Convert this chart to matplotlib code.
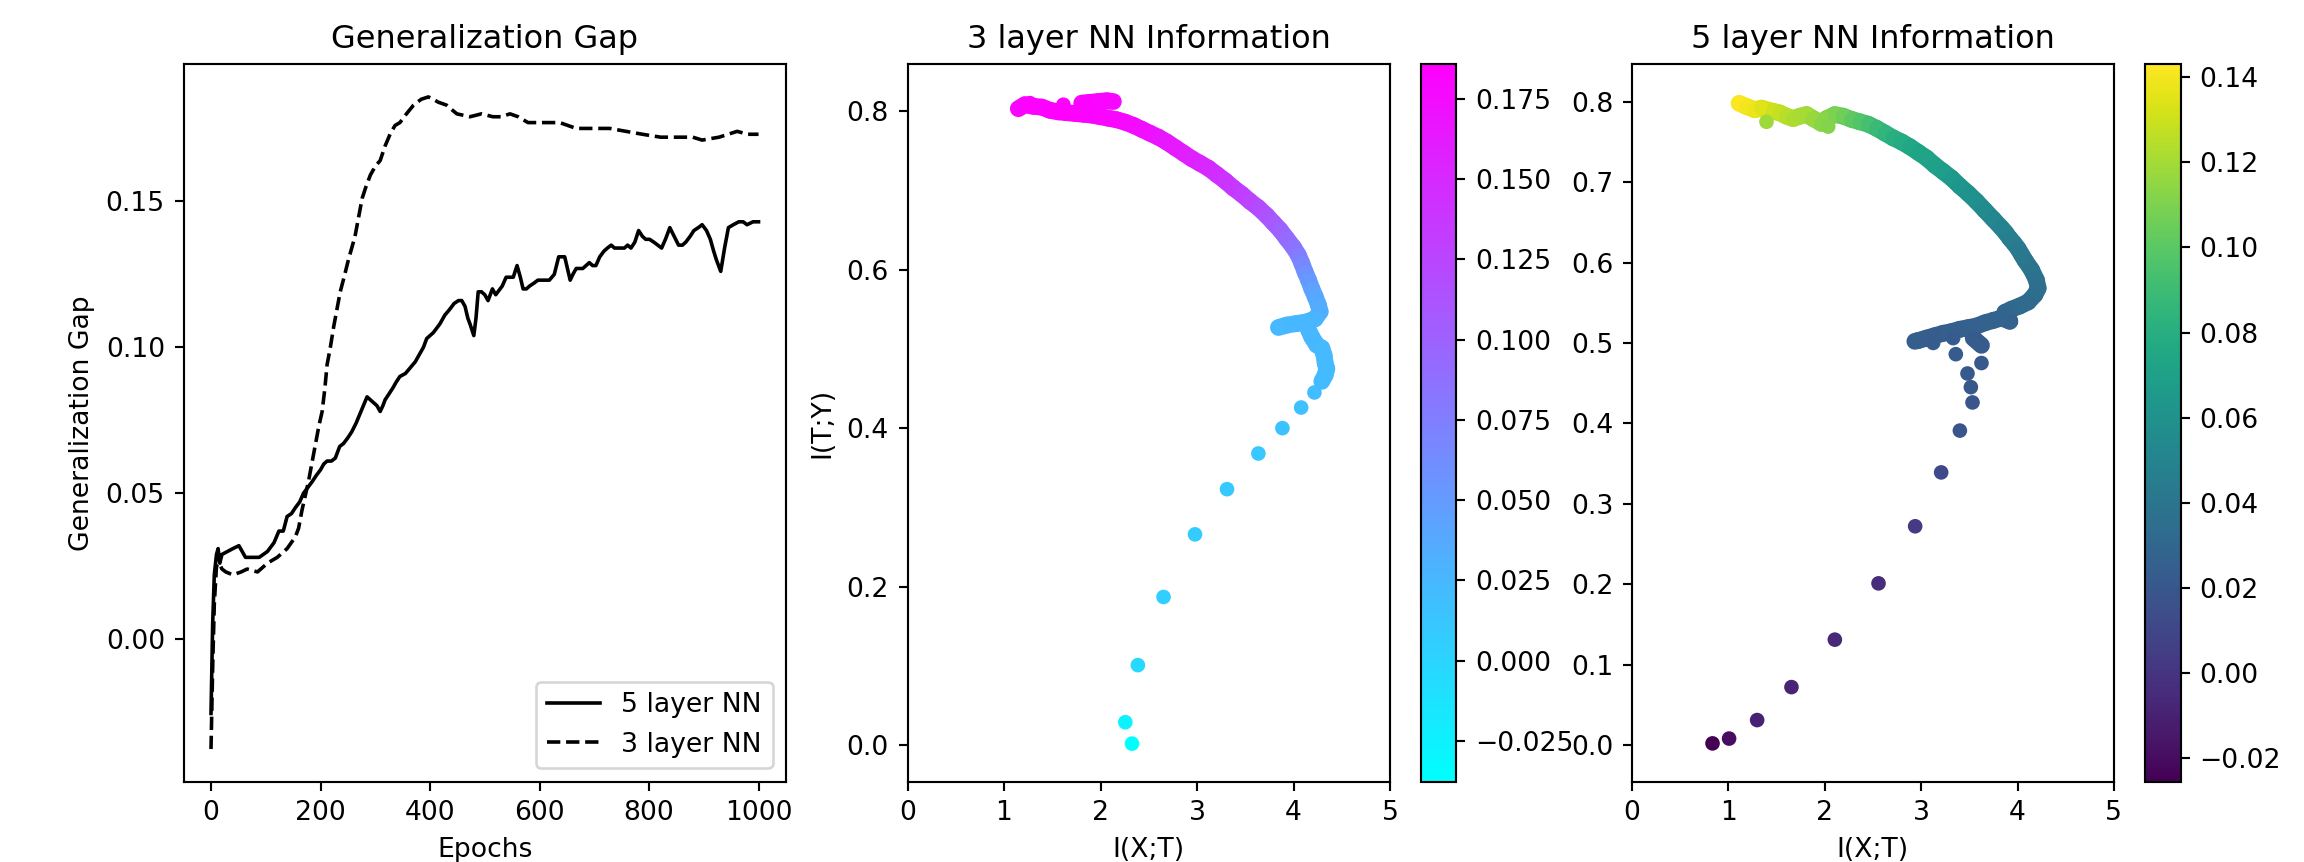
import numpy as np
import matplotlib
matplotlib.use("Agg")
import matplotlib.pyplot as plt
from matplotlib.collections import LineCollection
from matplotlib.colors import Normalize

# generalization gap per epoch
epochs5 = [0, 3, 6, 10, 13, 16, 20, 30, 40, 51, 63, 75, 88, 103, 115, 124, 132, 139, 147, 154,
           162, 169, 177, 185, 192, 200, 206, 212, 220, 227, 235, 242, 250, 257, 265, 276, 285, 291,
           297, 303, 309, 314, 318, 325, 332, 338, 345, 355, 364, 373, 382, 388, 394, 406, 418, 427,
           436, 444, 452, 458, 464, 469, 473, 480, 484, 488, 494, 500, 506, 514, 520, 524, 532, 539,
           546, 552, 559, 565, 570, 576, 582, 590, 597, 607, 618, 627, 635, 640, 646, 651, 656, 661,
           667, 673, 679, 685, 691, 697, 703, 710, 718, 724, 731, 737, 743, 749, 755, 761, 767, 774,
           781, 788, 794, 801, 809, 816, 823, 830, 838, 846, 854, 861, 867, 875, 882, 890, 897, 905,
           912, 918, 923, 927, 931, 938, 945, 954, 964, 972, 979, 990, 1000]
gap5 = [-0.0255, 0.005, 0.022, 0.029, 0.031, 0.026, 0.029, 0.030, 0.031, 0.032, 0.028, 0.028, 0.028,
        0.030, 0.033, 0.037, 0.037, 0.042, 0.043, 0.045, 0.047, 0.050, 0.052, 0.054, 0.056, 0.058,
        0.060, 0.061, 0.061, 0.062, 0.066, 0.067, 0.069, 0.071, 0.074, 0.079, 0.083, 0.082, 0.081,
        0.080, 0.078, 0.080, 0.082, 0.084, 0.086, 0.088, 0.090, 0.091, 0.093, 0.095, 0.098, 0.100,
        0.103, 0.105, 0.108, 0.111, 0.113, 0.115, 0.116, 0.116, 0.114, 0.110, 0.108, 0.104, 0.110,
        0.119, 0.119, 0.118, 0.116, 0.120, 0.118, 0.119, 0.121, 0.124, 0.124, 0.124, 0.128, 0.124,
        0.120, 0.120, 0.121, 0.122, 0.123, 0.123, 0.123, 0.125, 0.131, 0.131, 0.131, 0.127, 0.123,
        0.125, 0.127, 0.127, 0.127, 0.128, 0.129, 0.128, 0.128, 0.131, 0.133, 0.134, 0.135, 0.134,
        0.134, 0.134, 0.134, 0.135, 0.134, 0.136, 0.140, 0.138, 0.137, 0.137, 0.136, 0.135, 0.134,
        0.137, 0.141, 0.138, 0.135, 0.135, 0.136, 0.138, 0.140, 0.141, 0.142, 0.140, 0.137, 0.133,
        0.130, 0.128, 0.126, 0.134, 0.141, 0.142, 0.143, 0.143, 0.142, 0.143, 0.143]

epochs3 = [0, 3, 6, 10, 15, 20, 27, 40, 55, 66, 85, 103, 121, 139, 154, 160, 166, 172, 178, 185,
           191, 197, 203, 208, 212, 218, 224, 230, 236, 243, 251, 257, 263, 270, 276, 283, 291, 300,
           309, 318, 327, 336, 345, 357, 370, 384, 397, 406, 415, 430, 449, 473, 494, 515, 530, 546,
           561, 579, 600, 618, 637, 652, 667, 685, 705, 728, 758, 788, 821, 855, 880, 897, 928, 961,
           980, 1000]
gap3 = [-0.0377, -0.010, 0.012, 0.025, 0.026, 0.024, 0.023, 0.022, 0.023, 0.024, 0.023, 0.026,
        0.028, 0.031, 0.035, 0.038, 0.044, 0.049, 0.054, 0.061, 0.067, 0.073, 0.078, 0.086, 0.094,
        0.100, 0.107, 0.113, 0.119, 0.124, 0.130, 0.134, 0.138, 0.145, 0.151, 0.155, 0.159, 0.162,
        0.164, 0.169, 0.173, 0.176, 0.177, 0.180, 0.183, 0.185, 0.1858, 0.185, 0.184, 0.183, 0.180,
        0.179, 0.180, 0.179, 0.179, 0.180, 0.179, 0.177, 0.177, 0.177, 0.177, 0.176, 0.175, 0.175,
        0.175, 0.175, 0.174, 0.173, 0.172, 0.172, 0.172, 0.171, 0.172, 0.174, 0.173, 0.173]

# 3 layer information plane: I(X;T), I(T;Y), gap used for colour (traced along the path)
ixt3 = [1.148, 1.217, 1.304, 1.390, 1.476, 1.563, 1.649, 1.736, 1.822, 1.908, 1.995, 2.081, 2.168,
        2.254, 2.340, 2.427, 2.513, 2.600, 2.686, 2.772, 2.859, 2.945, 3.032, 3.118, 3.204, 3.291,
        3.377, 3.464, 3.550, 3.636, 3.723, 3.792, 3.861, 3.930, 4.000, 4.051, 4.086, 4.120, 4.155,
        4.189, 4.224, 4.259, 4.276, 4.224, 4.138, 4.034, 3.930, 3.844, 4.155, 4.189, 4.241, 4.293,
        4.317, 4.328, 4.345, 4.328, 4.293, 4.217, 4.079, 3.885, 3.636, 3.311, 2.979, 2.653, 2.387,
        2.257, 2.326, 1.269, 1.615, 1.805, 1.891, 1.977, 2.064, 2.133]
ity3 = [0.803, 0.808, 0.806, 0.805, 0.801, 0.799, 0.798, 0.797, 0.796, 0.795, 0.793, 0.791, 0.789,
        0.786, 0.782, 0.777, 0.772, 0.767, 0.761, 0.754, 0.747, 0.740, 0.734, 0.728, 0.720, 0.712,
        0.703, 0.695, 0.686, 0.678, 0.668, 0.659, 0.650, 0.639, 0.628, 0.618, 0.608, 0.597, 0.587,
        0.576, 0.566, 0.555, 0.547, 0.538, 0.534, 0.532, 0.530, 0.527, 0.524, 0.515, 0.505, 0.501,
        0.492, 0.482, 0.475, 0.467, 0.459, 0.445, 0.426, 0.400, 0.368, 0.323, 0.266, 0.187, 0.101,
        0.029, 0.002, 0.810, 0.808, 0.810, 0.811, 0.812, 0.813, 0.812]
col3 = [0.180, 0.182, 0.183, 0.184, 0.185, 0.185, 0.185, 0.184, 0.183, 0.182, 0.181, 0.180, 0.179,
        0.178, 0.176, 0.174, 0.171, 0.168, 0.165, 0.163, 0.160, 0.157, 0.154, 0.150, 0.146, 0.141,
        0.137, 0.132, 0.126, 0.120, 0.113, 0.107, 0.100, 0.093, 0.085, 0.076, 0.068, 0.060, 0.052,
        0.045, 0.040, 0.036, 0.034, 0.028, 0.026, 0.025, 0.025, 0.024, 0.026, 0.026, 0.025, 0.024,
        0.024, 0.023, 0.023, 0.022, 0.022, 0.020, 0.018, 0.015, 0.012, 0.010, 0.008, 0.005, -0.003,
        -0.025, -0.0377, 0.184, 0.186, 0.183, 0.182, 0.181, 0.180, 0.179]

# 5 layer information plane
ixt5 = [1.112, 1.189, 1.275, 1.344, 1.465, 1.534, 1.603, 1.673, 1.742, 1.811, 1.880, 1.967, 2.018,
        2.105, 2.191, 2.278, 2.364, 2.451, 2.537, 2.624, 2.710, 2.797, 2.883, 2.970, 3.056, 3.142,
        3.229, 3.315, 3.402, 3.488, 3.575, 3.661, 3.748, 3.834, 3.877, 3.920, 3.963, 4.007, 4.041,
        4.076, 4.145, 4.197, 4.214, 4.180, 4.111, 4.024, 3.938, 3.869, 3.920, 3.834, 3.748, 3.661,
        3.575, 3.488, 3.402, 3.315, 3.229, 3.142, 3.056, 2.970, 2.935, 3.125, 3.332, 3.540, 3.626,
        3.360, 3.626, 3.481, 3.516, 3.533, 3.402, 3.208, 2.938, 2.558, 2.105, 1.655, 1.299, 1.008,
        0.836, 1.396, 2.036]
ity5 = [0.798, 0.794, 0.790, 0.792, 0.788, 0.786, 0.782, 0.779, 0.782, 0.784, 0.779, 0.773, 0.779,
        0.784, 0.782, 0.778, 0.775, 0.772, 0.767, 0.761, 0.755, 0.750, 0.744, 0.737, 0.730, 0.721,
        0.713, 0.705, 0.695, 0.686, 0.676, 0.665, 0.654, 0.643, 0.637, 0.630, 0.624, 0.617, 0.610,
        0.603, 0.591, 0.578, 0.568, 0.560, 0.551, 0.546, 0.542, 0.538, 0.527, 0.531, 0.528, 0.525,
        0.521, 0.519, 0.517, 0.514, 0.512, 0.509, 0.506, 0.503, 0.502, 0.500, 0.506, 0.506, 0.497,
        0.486, 0.475, 0.462, 0.445, 0.426, 0.391, 0.339, 0.272, 0.201, 0.131, 0.072, 0.031, 0.008,
        0.002, 0.775, 0.769]
col5 = [0.143, 0.140, 0.138, 0.135, 0.130, 0.128, 0.125, 0.122, 0.121, 0.120, 0.117, 0.113, 0.113,
        0.110, 0.106, 0.101, 0.097, 0.093, 0.089, 0.085, 0.081, 0.078, 0.075, 0.073, 0.072, 0.070,
        0.068, 0.065, 0.063, 0.060, 0.058, 0.055, 0.052, 0.049, 0.048, 0.046, 0.045, 0.043, 0.042,
        0.041, 0.039, 0.037, 0.035, 0.034, 0.033, 0.032, 0.031, 0.030, 0.026, 0.028, 0.027, 0.027,
        0.026, 0.026, 0.025, 0.025, 0.025, 0.024, 0.024, 0.024, 0.024, 0.023, 0.023, 0.023, 0.022,
        0.022, 0.021, 0.021, 0.020, 0.019, 0.018, 0.012, 0.004, -0.004, -0.006, -0.009, -0.010,
        -0.020, -0.0255, 0.118, 0.112]

DOT = 20  # scatter marker area


def info_plane(ax, x, y, c, cmap, norm):
    # dense part of the trajectory: join neighbouring points so the band looks solid
    pts = ax.transData.transform(np.column_stack([x, y]))
    segs, cols = [], []
    for i in range(len(x) - 1):
        if np.hypot(*(pts[i + 1] - pts[i])) < 13:
            segs.append([(x[i], y[i]), (x[i + 1], y[i + 1])])
            cols.append((c[i] + c[i + 1]) / 2)
    lc = LineCollection(segs, cmap=cmap, norm=norm, linewidths=6.3,
                        capstyle='round', zorder=1)
    lc.set_array(np.array(cols))
    ax.add_collection(lc)
    return ax.scatter(x, y, c=c, s=DOT, cmap=cmap, norm=norm, zorder=2)


fig = plt.figure(figsize=(12, 862 / 192), dpi=192)

ax1 = fig.add_axes([0.0797, 0.0932, 0.2614, 0.8322])
ax1.plot(epochs5, gap5, 'k-', lw=1.35, label='5 layer NN')
ax1.plot(epochs3, gap3, 'k--', lw=1.35, label='3 layer NN')
ax1.set_title('Generalization Gap')
ax1.set_xlabel('Epochs')
ax1.set_ylabel('Generalization Gap')
ax1.set_xticks([0, 200, 400, 600, 800, 1000])
ax1.set_yticks([0.0, 0.05, 0.10, 0.15])
ax1.legend(loc='lower right')

ax2 = fig.add_axes([0.3939, 0.0932, 0.2094, 0.8322])
ax2.set_xlim(0, 5)
ax2.set_ylim(-0.046, 0.859)
sc2 = info_plane(ax2, ixt3, ity3, col3, 'cool', Normalize(min(gap3), max(gap3)))
ax2.set_yticks([0.0, 0.2, 0.4, 0.6, 0.8])
ax2.set_title('3 layer NN Information')
ax2.set_xlabel('I(X;T)')
ax2.set_ylabel('I(T;Y)')
cax2 = fig.add_axes([0.6168, 0.0932, 0.0152, 0.8322])
fig.colorbar(sc2, cax=cax2)

ax3 = fig.add_axes([0.7083, 0.0932, 0.2092, 0.8322])
ax3.set_xlim(0, 5)
ax3.set_ylim(-0.0456, 0.8465)
sc3 = info_plane(ax3, ixt5, ity5, col5, 'viridis', Normalize(min(gap5), max(gap5)))
ax3.set_yticks(np.arange(0, 0.81, 0.1))
ax3.set_title('5 layer NN Information')
ax3.set_xlabel('I(X;T)')
cax3 = fig.add_axes([0.931, 0.0932, 0.0154, 0.8322])
fig.colorbar(sc3, cax=cax3)

plt.savefig('out.png')
